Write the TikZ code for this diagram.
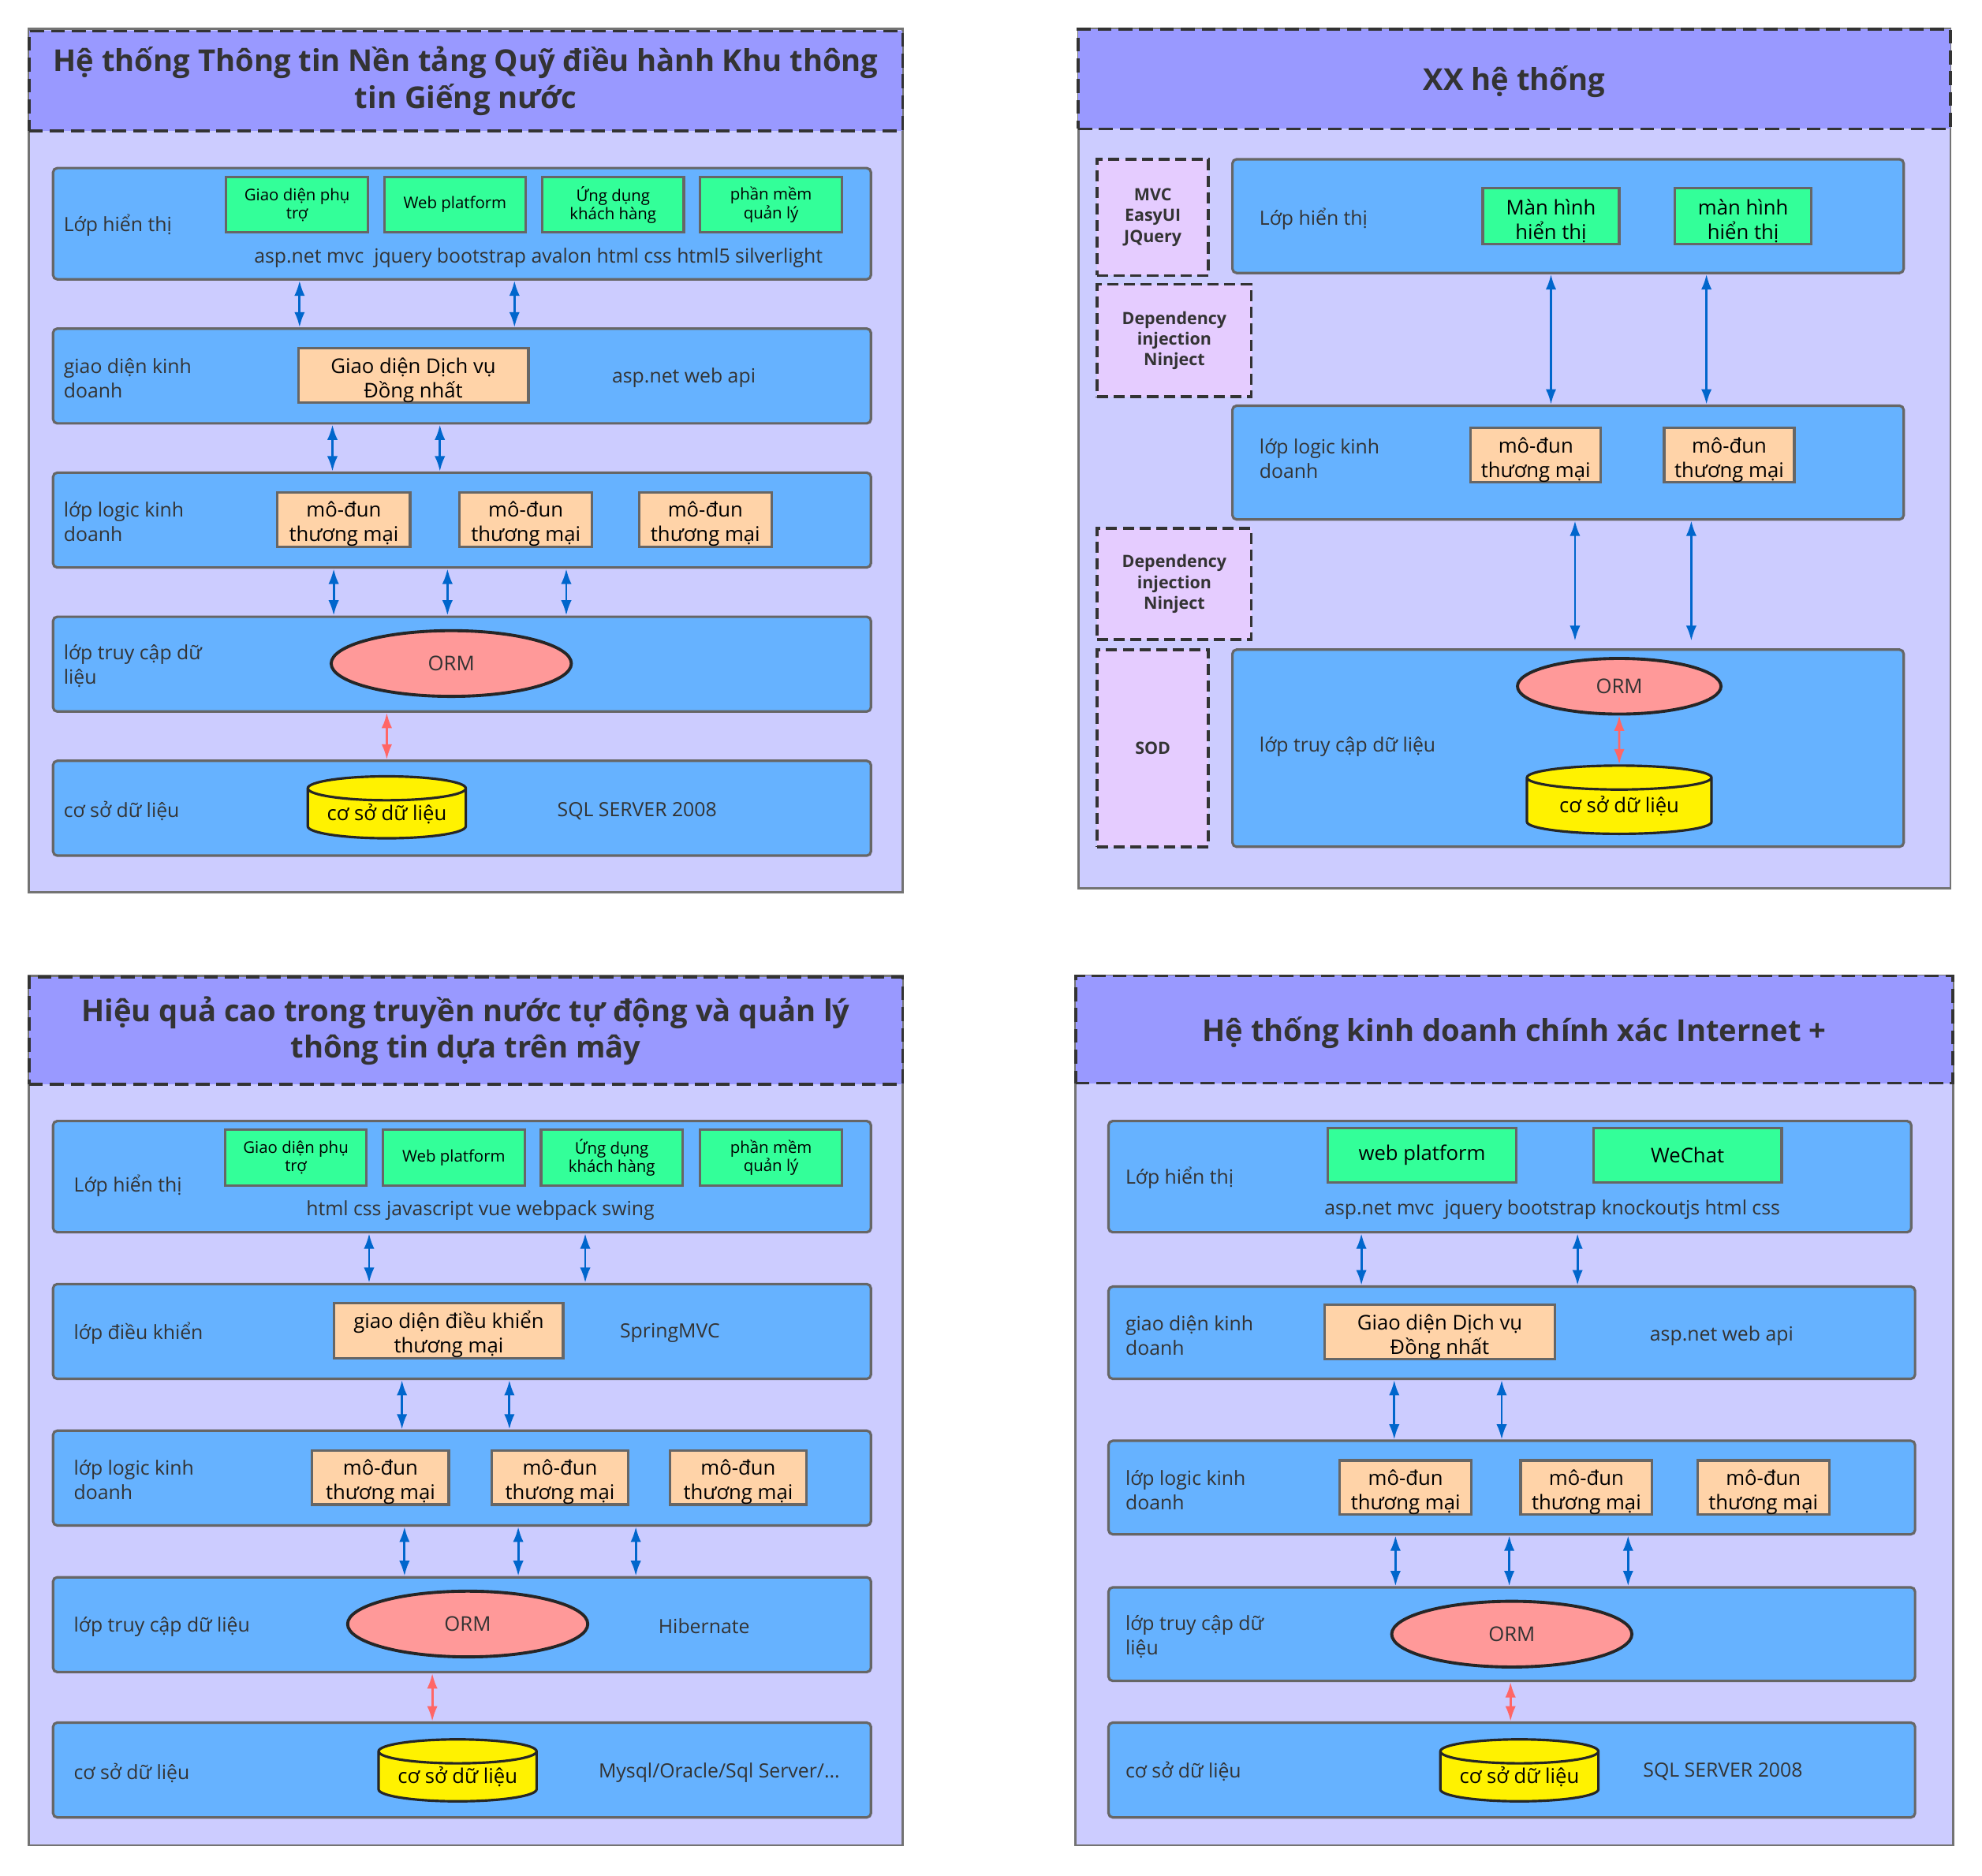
\documentclass[tikz,border=0pt]{standalone}
\usepackage{fontspec}
\setmainfont{Open Sans}
\usetikzlibrary{shapes.geometric,arrows.meta,fit}

\definecolor{bodyc}{HTML}{CCCCFF}
\definecolor{titlec}{HTML}{9999FF}
\definecolor{layerc}{HTML}{66B2FF}
\definecolor{greenc}{HTML}{33FF99}
\definecolor{peachc}{HTML}{FFD3A8}
\definecolor{ormc}{HTML}{FF9999}
\definecolor{sidec}{HTML}{E5CCFF}
\definecolor{arrblue}{HTML}{0066CC}
\definecolor{arrred}{HTML}{FF6666}
\definecolor{txt}{HTML}{333333}

\newcommand{\ttlfont}{\fontsize{10.85}{13.2}\selectfont\bfseries}
\newcommand{\lblfont}{\fontsize{7.05}{8.8}\selectfont}
\newcommand{\smfont}{\fontsize{5.8}{6.6}\selectfont}
\newcommand{\modfont}{\fontsize{7.3}{8.8}\selectfont}
\newcommand{\sidefont}{\fontsize{6.1}{7.5}\selectfont\bfseries}
\newcommand{\hstrut}{\rule{0pt}{9pt}}

\begin{document}
\begin{tikzpicture}[x=0.016cm, y=-0.016cm,
    panel/.style={draw=black!55, line width=0.8pt, fill=bodyc, inner sep=0pt},
    titlebox/.style={draw=black!80, dash pattern=on 5pt off 2.5pt, line width=1pt,
        fill=titlec, inner sep=0pt, align=center, font=\ttlfont, text=txt},
    layer/.style={draw=black!60, line width=0.9pt, fill=layerc, rounded corners=1.5pt, inner sep=0pt},
    lbl/.style={anchor=west, align=left, font=\lblfont, text=txt, inner sep=0pt, yshift=-0.9pt},
    note/.style={font=\lblfont, text=txt, inner sep=0pt, yshift=-0.9pt},
    scr/.style={draw=black!60, line width=0.9pt, fill=greenc, align=center, font=\smfont,
        minimum width=112*0.016cm, minimum height=44*0.016cm, inner sep=0pt},
    mod/.style={draw=black!60, line width=0.9pt, fill=peachc, align=center, font=\modfont,
        minimum width=105*0.016cm, minimum height=43*0.016cm, inner sep=0pt},
    orm/.style={ellipse, draw=black!85, line width=1.1pt, fill=ormc, font=\modfont, text=txt,
        minimum width=190*0.016cm, minimum height=52*0.016cm, inner sep=0pt},
    dbase/.style={cylinder, shape border rotate=90, aspect=0.2, draw=black!85, line width=0.9pt,
        fill=yellow, font=\modfont, minimum width=125*0.016cm, minimum height=49*0.016cm, inner sep=0pt},
    side/.style={draw=black!80, dash pattern=on 4pt off 2pt, line width=1pt, fill=sidec,
        align=center, font=\sidefont, text=txt, inner sep=0pt},
    barr/.style={draw=arrblue, line width=0.8pt, {Latex[length=5.5pt,width=3.8pt]}-{Latex[length=5.5pt,width=3.8pt]}},
    rarr/.style={draw=arrred, line width=0.8pt, {Latex[length=5.5pt,width=3.8pt]}-{Latex[length=5.5pt,width=3.8pt]}}
]

    \useasboundingbox (0,0) rectangle (1568,1484);

    % panel 1
    \node[panel, fit={(23,23) (714,706)}] (pn1) {};
    \node[titlebox, minimum width=691*0.016cm, minimum height=79*0.016cm] (tt1) at (368.5,64)
        {\rule{0pt}{6pt}Hệ thống Thông tin Nền tảng Quỹ điều hành Khu thông\\tin Giếng nước};

    \node[layer, fit={(42,133) (689,221)}] (a1) {};
    \node[lbl] (a1t) at (50,176) {Lớp hiển thị};
    \foreach \x/\txt [count=\k] in {235/{Giao diện phụ\\trợ}, 360/{Web platform}, 485/{Ứng dụng\\khách hàng}, 610/{phần mềm\\quản lý}}
    {
        \node[scr] (a1g\k) at (\x,162) {\txt};
    }
    \node[note] (a1n) at (426,202) {asp.net mvc\ \ jquery bootstrap avalon html css html5 silverlight};

    \node[layer, fit={(42,260) (689,335)}] (a2) {};
    \node[lbl] (a2t) at (50,297) {giao diện kinh\\doanh};
    \node[mod, minimum width=182*0.016cm] (a2m) at (327,297) {\hstrut Giao diện Dịch vụ\\Đồng nhất};
    \node[note] (a2n) at (541,297) {asp.net web api};

    \node[layer, fit={(42,374) (689,449)}] (a3) {};
    \node[lbl] (a3t) at (50,411) {lớp logic kinh\\doanh};
    \foreach \x [count=\k] in {272,416,558}
    {
        \node[mod] (a3m\k) at (\x,411) {\hstrut mô-đun\\thương mại};
    }

    \node[layer, fit={(42,488) (689,563)}] (a4) {};
    \node[lbl] (a4t) at (50,525) {lớp truy cập dữ\\liệu};
    \node[orm] (a4o) at (357,525) {ORM};

    \node[layer, fit={(42,602) (689,677)}] (a5) {};
    \node[lbl] (a5t) at (50,640) {cơ sở dữ liệu};
    \node[dbase] (a5d) at (306,644) {cơ sở dữ liệu};
    \node[note] (a5n) at (504,640) {SQL SERVER 2008};

    \foreach \x in {237,407} \draw[barr] (\x,0 |- a1.south) -- (\x,0 |- a2.north);
    \foreach \x in {263,348} \draw[barr] (\x,0 |- a2.south) -- (\x,0 |- a3.north);
    \foreach \x in {264,354,448} \draw[barr] (\x,0 |- a3.south) -- (\x,0 |- a4.north);
    \draw[rarr] (a5d |- a4.south) -- (a5d |- a5.north);

    % panel 2
    \node[panel, fit={(853,23) (1543,703)}] (pn2) {};
    \node[titlebox, minimum width=690*0.016cm, minimum height=79*0.016cm] (tt2) at (1198,62.5) {\rule{0pt}{11pt}XX hệ thống};

    \node[side, minimum width=88*0.016cm, minimum height=92*0.016cm] (s1) at (912,172) {MVC\\EasyUI\\JQuery};
    \node[side, minimum width=122*0.016cm, minimum height=89*0.016cm] (s2) at (929,269.5) {Dependency\\injection\\Ninject};
    \node[side, minimum width=122*0.016cm, minimum height=88*0.016cm] (s3) at (929,462) {Dependency\\injection\\Ninject};
    \node[side, minimum width=88*0.016cm, minimum height=156*0.016cm] (s4) at (912,592) {SOD};

    \node[layer, fit={(975,126) (1506,216)}] (b1) {};
    \node[lbl] (b1t) at (996,171) {Lớp hiển thị};
    \node[scr, font=\modfont, minimum width=108*0.016cm] (b1g1) at (1227,171) {\hstrut Màn hình\\hiển thị};
    \node[scr, font=\modfont, minimum width=108*0.016cm] (b1g2) at (1379,171) {\hstrut màn hình\\hiển thị};

    \node[layer, fit={(975,321) (1506,411)}] (b2) {};
    \node[lbl] (b2t) at (996,361) {lớp logic kinh\\doanh};
    \foreach \x [count=\k] in {1215,1368}
    {
        \node[mod, minimum width=103*0.016cm] (b2m\k) at (\x,360) {\hstrut mô-đun\\thương mại};
    }

    \node[layer, fit={(975,514) (1506,670)}] (b3) {};
    \node[lbl] (b3t) at (996,589) {lớp truy cập dữ liệu};
    \node[orm, minimum width=161*0.016cm, minimum height=44*0.016cm] (b3o) at (1281,543) {ORM};
    \node[dbase, minimum width=146*0.016cm, minimum height=54*0.016cm] (b3d) at (1281,638) {cơ sở dữ liệu};

    \foreach \x in {1227,1350} \draw[barr] (\x,0 |- b1.south) -- (\x,0 |- b2.north);
    \foreach \x in {1246,1338} \draw[barr] (\x,0 |- b2.south) -- (\x,0 |- s3.south);
    \draw[rarr] (b3o) -- (b3d);

    % panel 3
    \node[panel, fit={(23,772) (714,1460)}] (pn3) {};
    \node[titlebox, minimum width=691*0.016cm, minimum height=85*0.016cm] (tt3) at (368.5,815.5)
        {\rule{0pt}{6pt}Hiệu quả cao trong truyền nước tự động và quản lý\\thông tin dựa trên mây};

    \node[layer, fit={(42,887) (689,975)}] (c1) {};
    \node[lbl] (c1t) at (58,936) {Lớp hiển thị};
    \foreach \x/\txt [count=\k] in {234/{Giao diện phụ\\trợ}, 359/{Web platform}, 484/{Ứng dụng\\khách hàng}, 610/{phần mềm\\quản lý}}
    {
        \node[scr] (c1g\k) at (\x,916) {\txt};
    }
    \node[note] (c1n) at (380,956) {html css javascript vue webpack swing};

    \node[layer, fit={(42,1016) (689,1091)}] (c2) {};
    \node[lbl] (c2t) at (58,1053) {lớp điều khiển};
    \node[mod, minimum width=181*0.016cm, minimum height=44*0.016cm] (c2m) at (355,1053) {\hstrut giao diện điều khiển\\thương mại};
    \node[note] (c2n) at (530,1053) {SpringMVC};

    \node[layer, fit={(42,1132) (689,1207)}] (c3) {};
    \node[lbl] (c3t) at (58,1169) {lớp logic kinh\\doanh};
    \foreach \x [count=\k] in {301,443,584}
    {
        \node[mod, minimum width=108*0.016cm] (c3m\k) at (\x,1169) {\hstrut mô-đun\\thương mại};
    }

    \node[layer, fit={(42,1248) (689,1323)}] (c4) {};
    \node[lbl] (c4t) at (58,1285) {lớp truy cập dữ liệu};
    \node[orm] (c4o) at (370,1285) {ORM};
    \node[note] (c4n) at (557,1285) {Hibernate};

    \node[layer, fit={(42,1363) (689,1438)}] (c5) {};
    \node[lbl] (c5t) at (58,1401) {cơ sở dữ liệu};
    \node[dbase] (c5d) at (362,1406) {cơ sở dữ liệu};
    \node[note] (c5n) at (569,1401) {Mysql/Oracle/Sql Server/...};

    \foreach \x in {292,463} \draw[barr] (\x,0 |- c1.south) -- (\x,0 |- c2.north);
    \foreach \x in {318,403} \draw[barr] (\x,0 |- c2.south) -- (\x,0 |- c3.north);
    \foreach \x in {320,410,503} \draw[barr] (\x,0 |- c3.south) -- (\x,0 |- c4.north);
    \draw[rarr] (342,0 |- c4.south) -- (342,0 |- c5.north);

    % panel 4
    \node[panel, fit={(851,772) (1545,1460)}] (pn4) {};
    \node[titlebox, minimum width=694*0.016cm, minimum height=85*0.016cm] (tt4) at (1198,814.5)
        {\rule{0pt}{11pt}Hệ thống kinh doanh chính xác Internet +};

    \node[layer, fit={(877,887) (1512,975)}] (d1) {};
    \node[lbl] (d1t) at (890,930) {Lớp hiển thị};
    \node[scr, font=\modfont, minimum width=149*0.016cm, minimum height=43*0.016cm] (d1g1) at (1125,914) {web platform};
    \node[scr, font=\modfont, minimum width=149*0.016cm, minimum height=43*0.016cm] (d1g2) at (1335,914) {WeChat};
    \node[note] (d1n) at (1228,955) {asp.net mvc\ \ jquery bootstrap knockoutjs html css};

    \node[layer, fit={(877,1018) (1515,1091)}] (d2) {};
    \node[lbl] (d2t) at (890,1055) {giao diện kinh\\doanh};
    \node[mod, minimum width=182*0.016cm] (d2m) at (1139,1054) {\hstrut Giao diện Dịch vụ\\Đồng nhất};
    \node[note] (d2n) at (1362,1055) {asp.net web api};

    \node[layer, fit={(877,1140) (1515,1214)}] (d3) {};
    \node[lbl] (d3t) at (890,1177) {lớp logic kinh\\doanh};
    \foreach \x [count=\k] in {1112,1255,1395}
    {
        \node[mod, minimum width=104*0.016cm] (d3m\k) at (\x,1177) {\hstrut mô-đun\\thương mại};
    }

    \node[layer, fit={(877,1256) (1515,1330)}] (d4) {};
    \node[lbl] (d4t) at (890,1293) {lớp truy cập dữ\\liệu};
    \node[orm] (d4o) at (1196,1293) {ORM};

    \node[layer, fit={(877,1363) (1515,1438)}] (d5) {};
    \node[lbl] (d5t) at (890,1400) {cơ sở dữ liệu};
    \node[dbase] (d5d) at (1202,1406) {cơ sở dữ liệu};
    \node[note] (d5n) at (1363,1400) {SQL SERVER 2008};

    \foreach \x in {1077,1248} \draw[barr] (\x,0 |- d1.south) -- (\x,0 |- d2.north);
    \foreach \x in {1103,1188} \draw[barr] (\x,0 |- d2.south) -- (\x,0 |- d3.north);
    \foreach \x in {1104,1194,1288} \draw[barr] (\x,0 |- d3.south) -- (\x,0 |- d4.north);
    \draw[rarr] (1195,0 |- d4.south) -- (1195,0 |- d5.north);

\end{tikzpicture}
\end{document}
